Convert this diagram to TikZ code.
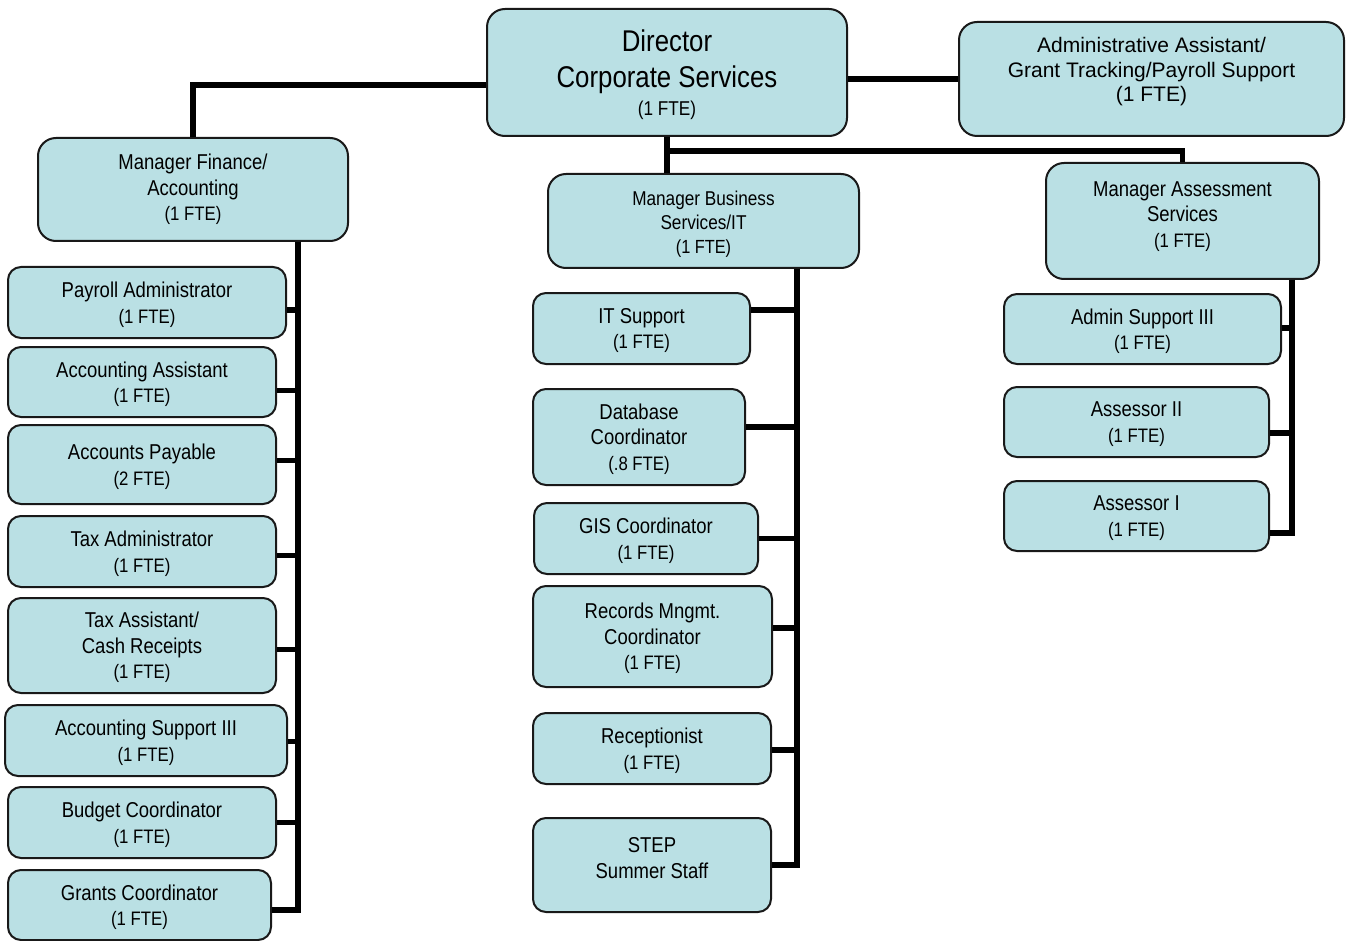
\documentclass[tikz,border=0pt]{standalone}
\usepackage{fontspec}
\setmainfont{Liberation Sans}[FakeStretch=0.86]
\newfontfamily\plainsans{Liberation Sans}
\definecolor{unitfill}{RGB}{186,224,228}
\definecolor{unitline}{RGB}{25,25,25}

\newcommand\namefont{\fontsize{21.5}{25.5}\selectfont}
\newcommand\ftefont{\fontsize{19.5}{25.5}\selectfont}

\tikzset{
  unit/.style={draw=unitline, line width=2pt, fill=unitfill, rounded corners=13pt, inner sep=0pt},
  bigunit/.style={unit, rounded corners=18pt},
  unittext/.style={align=center, inner sep=0pt, font=\namefont},
  link/.style={line width=5.5pt, draw=black},
}

% #1 box style, #2 name, #3 x1, #4 y1, #5 x2, #6 y2, #7 text options, #8 text
\newcommand\orgunit[8]{%
  \node[#1, minimum width={#5pt-#3pt}, minimum height={#6pt-#4pt}] (#2)
    at ({(#3+#5)/2},{(#4+#6)/2}) {};
  \node[unittext, #7] (#2-t) at ([yshift=-2pt]#2.center) {#8};
}

\begin{document}
\begin{tikzpicture}[x=1pt, y=-1pt]
\fill[white] (0,0) rectangle (1346,941);
\useasboundingbox (0,0) rectangle (1346,941);

% top level
\orgunit{bigunit}{dir}{487}{9}{847}{136}{yshift=0pt, font=\fontsize{30}{36}\selectfont}{%
  Director\\Corporate Services\\[-8pt]{\fontsize{20}{24}\selectfont (1 FTE)}}
\orgunit{bigunit}{adm}{959}{22}{1344}{136}{yshift=9pt, font=\plainsans\fontsize{21}{24.5}\selectfont}{%
  Administrative Assistant/\\Grant Tracking/Payroll Support\\(1 FTE)}

% managers
\orgunit{bigunit}{mfin}{38}{138}{348}{241}{yshift=2pt}{Manager Finance/\\Accounting\\{\ftefont (1 FTE)}}
\orgunit{bigunit}{mbus}{548}{174}{859}{268}{yshift=-1pt, font=\fontsize{20}{24}\selectfont}{%
  Manager Business\\Services/IT\\{\fontsize{19}{24}\selectfont (1 FTE)}}
\orgunit{bigunit}{mass}{1046}{163}{1319}{279}{yshift=6.5pt}{Manager Assessment\\Services\\{\ftefont (1 FTE)}}

% finance and accounting staff
\orgunit{unit}{pay}{8}{267}{286}{338}{}{Payroll Administrator\\{\ftefont (1 FTE)}}
\orgunit{unit}{aca}{8}{347}{276}{417}{}{Accounting Assistant\\{\ftefont (1 FTE)}}
\orgunit{unit}{ap}{8}{425}{276}{504}{}{Accounts Payable\\{\ftefont (2 FTE)}}
\orgunit{unit}{taxad}{8}{516}{276}{587}{}{Tax Administrator\\{\ftefont (1 FTE)}}
\orgunit{unit}{taxas}{8}{598}{276}{693}{}{Tax Assistant/\\Cash Receipts\\{\ftefont (1 FTE)}}
\orgunit{unit}{acs}{5}{705}{287}{776}{}{Accounting Support III\\{\ftefont (1 FTE)}}
\orgunit{unit}{bud}{8}{787}{276}{858}{}{Budget Coordinator\\{\ftefont (1 FTE)}}
\orgunit{unit}{gra}{8}{870}{271}{940}{}{Grants Coordinator\\{\ftefont (1 FTE)}}

% business services and IT staff
\orgunit{unit}{its}{533}{293}{750}{364}{}{IT Support\\{\ftefont (1 FTE)}}
\orgunit{unit}{db}{533}{389}{745}{485}{}{Database\\Coordinator\\{\ftefont (.8 FTE)}}
\orgunit{unit}{gis}{534}{503}{758}{574}{}{GIS Coordinator\\{\ftefont (1 FTE)}}
\orgunit{unit}{rec}{533}{586}{772}{687}{}{Records Mngmt.\\Coordinator\\{\ftefont (1 FTE)}}
\orgunit{unit}{recp}{533}{713}{771}{784}{}{Receptionist\\{\ftefont (1 FTE)}}
\orgunit{unit}{step}{533}{818}{771}{912}{yshift=9pt}{STEP\\Summer Staff}

% assessment staff
\orgunit{unit}{ads}{1004}{294}{1281}{364}{}{Admin Support III\\{\ftefont (1 FTE)}}
\orgunit{unit}{as2}{1004}{387}{1269}{457}{}{Assessor II\\{\ftefont (1 FTE)}}
\orgunit{unit}{as1}{1004}{481}{1269}{551}{}{Assessor I\\{\ftefont (1 FTE)}}

% links from the director
\draw[link] ([yshift=-12.5pt]dir.west) -| (mfin.north);
\draw[link] (adm.west -| dir.east) -- (adm.west);
\draw[link] (dir.south) -- (dir.south |- mbus.north);
\draw[link] (dir.south) -- ++(0,14) -| (mass.north);

% finance trunk
\coordinate (fin-trunk) at ([xshift=105pt]mfin.south);
\draw[link] (fin-trunk) |- ([yshift=-7.5pt]pay.east);
\draw[link] (fin-trunk) |- ([yshift=-8.5pt]aca.east);
\draw[link] (fin-trunk) |- ([yshift=4pt]ap.east);
\draw[link] (fin-trunk) |- ([yshift=-4pt]taxad.east);
\draw[link] (fin-trunk) |- ([yshift=-4pt]taxas.east);
\draw[link] (fin-trunk) |- ([yshift=-1pt]acs.east);
\draw[link] (fin-trunk) |- (bud.east);
\draw[link] (fin-trunk) |- ([yshift=-5pt]gra.east);

% business services trunk
\coordinate (bus-trunk) at ([xshift=93.5pt]mbus.south);
\draw[link] (bus-trunk) |- ([yshift=18.5pt]its.east);
\draw[link] (bus-trunk) |- ([yshift=10pt]db.east);
\draw[link] (bus-trunk) |- (gis.east);
\draw[link] (bus-trunk) |- ([yshift=8.5pt]rec.east);
\draw[link] (bus-trunk) |- ([yshift=-1.5pt]recp.east);
\draw[link] (bus-trunk) |- (step.east);

% assessment trunk
\coordinate (ass-trunk) at ([xshift=109.5pt]mass.south);
\draw[link] (ass-trunk) |- ([yshift=1pt]ads.east);
\draw[link] (ass-trunk) |- ([yshift=-11pt]as2.east);
\draw[link] (ass-trunk) |- ([yshift=-17pt]as1.east);
\end{tikzpicture}
\end{document}
